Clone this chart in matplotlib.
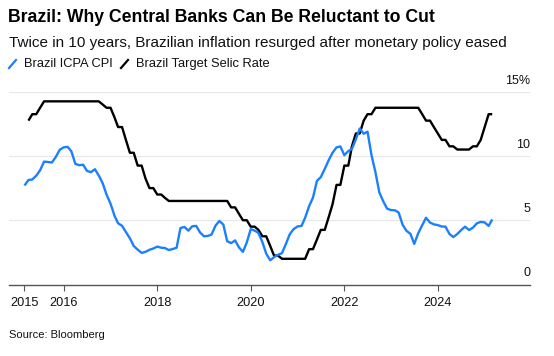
import matplotlib
matplotlib.use("Agg")
import matplotlib.pyplot as plt
from matplotlib.lines import Line2D
import pandas as pd

plt.rcParams["font.family"] = ["Liberation Sans", "DejaVu Sans"]

# Brazil IPCA CPI, YoY %, monthly from Feb 2015 to Feb 2025
cpi = [
    7.70, 8.13, 8.17, 8.47, 8.89, 9.56, 9.53, 9.49, 9.93, 10.48, 10.67,
    10.71, 10.36, 9.39, 9.28, 9.32, 8.84, 8.74, 8.97, 8.48, 7.87, 6.99, 6.29,
    5.35, 4.76, 4.57, 4.08, 3.60, 3.00, 2.71, 2.46, 2.54, 2.70, 2.80, 2.95,
    2.86, 2.84, 2.68, 2.76, 2.86, 4.39, 4.48, 4.19, 4.53, 4.56, 4.05, 3.75,
    3.78, 3.89, 4.58, 4.94, 4.66, 3.37, 3.22, 3.43, 2.89, 2.54, 3.27, 4.31,
    4.19, 4.01, 3.30, 2.40, 1.88, 2.13, 2.31, 2.44, 3.14, 3.92, 4.31, 4.52,
    4.56, 5.20, 6.10, 6.76, 8.06, 8.35, 8.99, 9.68, 10.25, 10.67, 10.74, 10.06,
    10.38, 10.54, 11.30, 12.13, 11.73, 11.89, 10.07, 8.73, 7.17, 6.47, 5.90, 5.79,
    5.77, 5.60, 4.65, 4.18, 3.94, 3.16, 3.99, 4.61, 5.19, 4.82, 4.68, 4.62,
    4.51, 4.50, 3.93, 3.69, 3.93, 4.23, 4.50, 4.24, 4.42, 4.76, 4.87, 4.83,
    4.56, 5.06,
]
cpi_start = "2015-02-28"

# Brazil target Selic rate, %, month end from Mar 2015 to Feb 2025
selic = [
    12.75, 13.25, 13.25, 13.75, 14.25, 14.25, 14.25, 14.25, 14.25, 14.25,
    14.25, 14.25, 14.25, 14.25, 14.25, 14.25, 14.25, 14.25, 14.25, 14.00, 13.75, 13.75,
    13.00, 12.25, 12.25, 11.25, 10.25, 10.25, 9.25, 9.25, 8.25, 7.50, 7.50, 7.00,
    7.00, 6.75, 6.50, 6.50, 6.50, 6.50, 6.50, 6.50, 6.50, 6.50, 6.50, 6.50,
    6.50, 6.50, 6.50, 6.50, 6.50, 6.50, 6.00, 6.00, 5.50, 5.00, 5.00, 4.50,
    4.50, 4.25, 3.75, 3.75, 3.00, 2.25, 2.25, 2.00, 2.00, 2.00, 2.00, 2.00,
    2.00, 2.00, 2.75, 2.75, 3.50, 4.25, 4.25, 5.25, 6.25, 7.75, 7.75, 9.25,
    9.25, 10.75, 11.75, 11.75, 12.75, 13.25, 13.25, 13.75, 13.75, 13.75, 13.75, 13.75,
    13.75, 13.75, 13.75, 13.75, 13.75, 13.75, 13.75, 13.25, 12.75, 12.75, 12.25, 11.75,
    11.25, 11.25, 10.75, 10.75, 10.50, 10.50, 10.50, 10.50, 10.75, 10.75, 11.25, 12.25,
    13.25, 13.25,
]
selic_start = "2015-03-31"

tick_years = ["2015", "2016", "2018", "2020", "2022", "2024"]
tick_dates = ["2015-02-28", "2016-01-01", "2018-01-01", "2020-01-01",
              "2022-01-01", "2024-01-01"]
y_levels = [0, 5, 10, 15]
y_labels = ["0", "5", "10", "15%"]

BLUE = "#1a80ff"

cpi_dates = pd.date_range(cpi_start, periods=len(cpi), freq="ME")
selic_dates = pd.date_range(selic_start, periods=len(selic), freq="ME")

fig = plt.figure(figsize=(5.54, 3.56), dpi=100)
ax = fig.add_axes([9 / 554, 1 - 284.5 / 356, 521 / 554, 192.8 / 356])

ax.plot(selic_dates, selic, color="black", lw=1.7, solid_capstyle="butt", zorder=3)
ax.plot(cpi_dates, cpi, color=BLUE, lw=1.7, solid_capstyle="butt", zorder=4)

ax.set_xlim(pd.Timestamp("2014-10-30"), pd.Timestamp("2025-12-20"))
ax.set_ylim(0, 15)

for lvl, lab in zip(y_levels, y_labels):
    if lvl > 0:
        ax.axhline(lvl, color="#e8e8e8", lw=0.9, zorder=1)
    ax.text(1.0, lvl + 0.4, lab, transform=ax.get_yaxis_transform(),
            ha="right", va="bottom", fontsize=9, color="#111111")

ax.set_yticks([])
for s in ["left", "right", "top"]:
    ax.spines[s].set_visible(False)
ax.spines["bottom"].set_color("#555555")
ax.spines["bottom"].set_linewidth(1.0)

ax.set_xticks([pd.Timestamp(d) for d in tick_dates])
ax.set_xticklabels(tick_years, fontsize=9.2, color="#111111")
ax.tick_params(axis="x", length=4, width=0.8, color="#555555", pad=5)

fig.text(8 / 554, 1 - 17 / 356, "Brazil: Why Central Banks Can Be Reluctant to Cut",
         fontsize=12.7, fontweight="bold", va="center", ha="left")
fig.text(9 / 554, 1 - 43 / 356,
         "Twice in 10 years, Brazilian inflation resurged after monetary policy eased",
         fontsize=11, va="center", ha="left", color="#111111")

# legend with slanted strokes
ly = 1 - 64 / 356
for x0, col, lab in [(9, BLUE, "Brazil ICPA CPI"), (121, "black", "Brazil Target Selic Rate")]:
    fig.add_artist(Line2D([x0 / 554, (x0 + 7) / 554], [ly - 4 / 356, ly + 4 / 356],
                          color=col, lw=1.6, transform=fig.transFigure))
    fig.text((x0 + 15) / 554, ly, lab, fontsize=9.3, va="center", ha="left", color="#111111")

fig.text(9 / 554, 1 - 335 / 356, "Source: Bloomberg", fontsize=8, va="center",
         ha="left", color="#111111")

fig.savefig("out.png", dpi=100)
